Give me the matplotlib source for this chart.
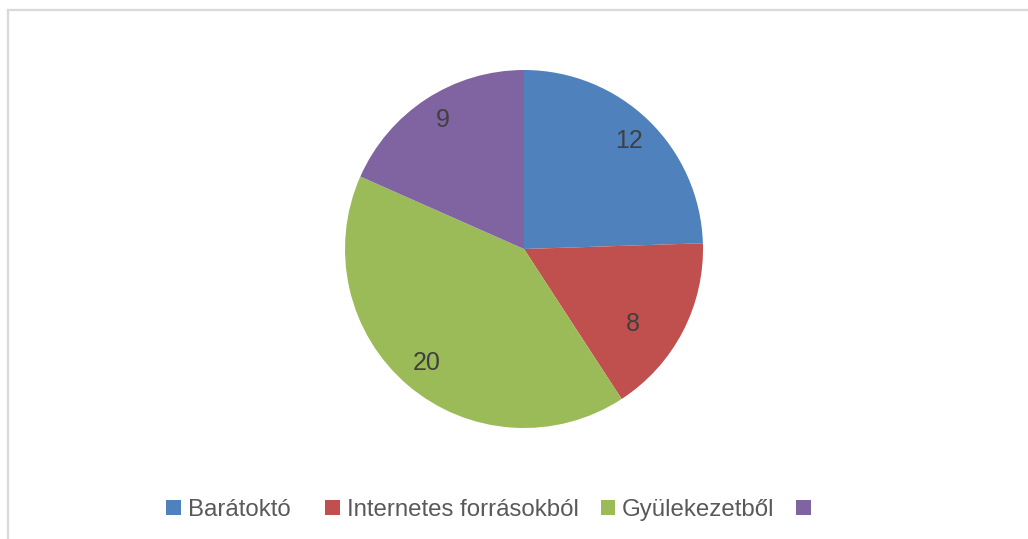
import matplotlib.pyplot as plt
from matplotlib.patches import Patch
import numpy as np

plt.rcParams['font.family'] = ['Liberation Sans', 'DejaVu Sans']

categories = ["Barátoktó  ", "Internetes forrásokból", "Gyülekezetből", ""]
values = [12, 8, 20, 9]
colors = ["#4F81BD", "#C0504D", "#9BBB59", "#8064A2"]
# label distance from centre (fraction of radius) and angle shift, as placed in the original
label_r = [0.84, 0.74, 0.84, 0.85]
label_dang = [0, -7, 0, -1]

fig = plt.figure(figsize=(10.28, 5.39), dpi=100)

# light grey chart border (left and top visible)
fig.add_artist(plt.Line2D([8/1028, 8/1028], [0, 1 - 10/539], color="#D9D9D9", lw=1.6))
fig.add_artist(plt.Line2D([8/1028, 1], [1 - 10/539, 1 - 10/539], color="#D9D9D9", lw=1.6))

ax = fig.add_axes([345/1028, 111/539, 358/1028, 358/539])
wedges, _ = ax.pie(values, colors=colors, startangle=90, counterclock=False,
                   radius=1, wedgeprops=dict(linewidth=0))
ax.set_xlim(-1, 1)
ax.set_ylim(-1, 1)
ax.set_aspect("equal")

for w, v, r, da in zip(wedges, values, label_r, label_dang):
    ang = np.deg2rad((w.theta1 + w.theta2) / 2 + da)
    ax.text(r * np.cos(ang), r * np.sin(ang), str(v), ha="center", va="center",
            fontsize=18, color="#404040")

handles = [Patch(facecolor=c, edgecolor="none") for c in colors]
fig.legend(handles, categories, loc="center", bbox_to_anchor=(492/1028, 1 - 510/539),
           ncol=4, frameon=False, fontsize=17.3, handlelength=0.6, handleheight=0.6,
           handletextpad=0.3, columnspacing=0.9, labelcolor="#595959")

fig.savefig("out.png", dpi=100)
